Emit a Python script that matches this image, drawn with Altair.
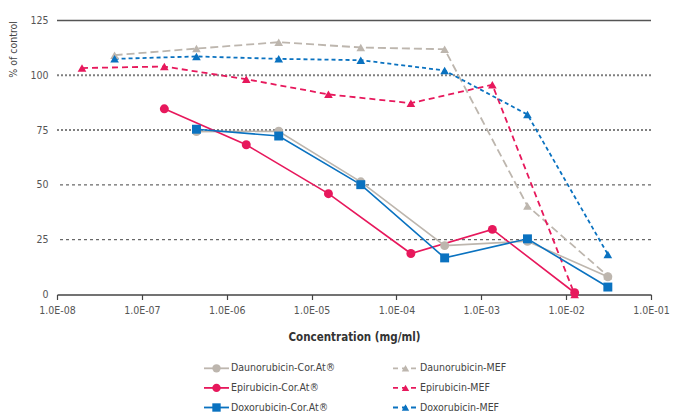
import altair as alt
import pandas as pd

# ---------------- data ----------------
CONC_DD_COR = [4.4e-7, 4.1e-6, 3.8e-5, 3.7e-4, 3.5e-3, 3.1e-2]
CONC_EPI_COR = [1.84e-7, 1.7e-6, 1.58e-5, 1.48e-4, 1.35e-3, 1.26e-2]
CONC_DD_MEF = [4.77e-8, 4.4e-7, 4.1e-6, 3.8e-5, 3.7e-4, 3.5e-3, 3.1e-2]
CONC_EPI_MEF = [1.97e-8, 1.84e-7, 1.7e-6, 1.58e-5, 1.48e-4, 1.35e-3, 1.26e-2]

DAUNO_COR = [74.3, 74.5, 51.4, 22.3, 24.3, 8.1]
EPI_COR = [84.7, 68.3, 46.0, 18.7, 29.7, 0.8]
DOXO_COR = [75.4, 72.3, 50.1, 16.7, 25.4, 3.4]
DAUNO_MEF = [109.2, 112.2, 115.1, 112.7, 111.9, 40.4, 8.5]
EPI_MEF = [103.3, 104.0, 98.2, 91.3, 87.3, 95.7, 0.0]
DOXO_MEF = [107.5, 108.6, 107.5, 106.9, 102.2, 82.1, 18.3]

SERIES_NAMES = ["Daunorubicin-Cor.At®", "Daunorubicin-MEF",
                "Epirubicin-Cor.At®", "Epirubicin-MEF",
                "Doxorubicin-Cor.At®", "Doxorubicin-MEF"]

X_TICKS = [1e-8, 1e-7, 1e-6, 1e-5, 1e-4, 1e-3, 1e-2, 1e-1]
Y_TICKS = [0, 25, 50, 75, 100, 125]
GRID_SOLID = [125]
GRID_DOTTED = [100, 75]
GRID_DASHED = [50, 25]

# ---------------- styles ----------------
FONT = "DejaVu Sans Condensed, Liberation Sans Narrow, sans-serif"
GRAY = "#bdb6ae"
RED = "#e7185c"
BLUE = "#0a72c0"

series = [
    # name, conc, values, color, shape, dash, size
    (SERIES_NAMES[1], CONC_DD_MEF, DAUNO_MEF, GRAY, "triangle-up", [8, 4], 75),
    (SERIES_NAMES[3], CONC_EPI_MEF, EPI_MEF, RED, "triangle-up", [6, 4], 75),
    (SERIES_NAMES[5], CONC_DD_MEF, DOXO_MEF, BLUE, "triangle-up", [4, 3], 75),
    (SERIES_NAMES[0], CONC_DD_COR, DAUNO_COR, GRAY, "circle", None, 80),
    (SERIES_NAMES[2], CONC_EPI_COR, EPI_COR, RED, "circle", None, 80),
    (SERIES_NAMES[4], CONC_DD_COR, DOXO_COR, BLUE, "square", None, 80),
]

W, H = 594, 274

x_scale = alt.Scale(type="log", domain=[1e-8, 1e-1], nice=False)
y_scale = alt.Scale(domain=[0, 125], nice=False, zero=True)

label_expr = ("'1.0E-' + (abs(round(log(datum.value)/LN10)) < 10 ? '0' : '') "
              "+ abs(round(log(datum.value)/LN10))")

x_axis = alt.Axis(values=X_TICKS, labelExpr=label_expr, title="Concentration (mg/ml)",
                  grid=False, domainColor="#444", domainWidth=1.5, tickColor="#444",
                  tickWidth=1.2, tickSize=5, labelPadding=6, labelFont=FONT,
                  labelFontSize=10.5, labelColor="#555", titleFont=FONT,
                  titleFontSize=11.5, titleFontWeight="bold", titleColor="#333",
                  titlePadding=15.5, labelFlush=False)
y_axis = alt.Axis(values=Y_TICKS, title="% of control", grid=False, domain=False,
                  ticks=False, tickSize=0, labelPadding=9, labelFont=FONT,
                  labelFontSize=10.5, labelColor="#555", titleFont=FONT,
                  titleFontSize=10.5, titleFontWeight="normal", titleColor="#444",
                  titleAnchor="end", titlePadding=11)


def enc_x():
    return alt.X("conc:Q", scale=x_scale, axis=x_axis)


def enc_y():
    return alt.Y("pct:Q", scale=y_scale, axis=y_axis)


layers = []
layers.append(alt.Chart(pd.DataFrame({"pct": GRID_DASHED})).mark_rule(
    color="#444", strokeWidth=1, strokeDash=[3, 3]).encode(y=enc_y()))
layers.append(alt.Chart(pd.DataFrame({"pct": GRID_DOTTED})).mark_rule(
    color="#808080", strokeWidth=2, strokeDash=[2, 2]).encode(y=enc_y()))
layers.append(alt.Chart(pd.DataFrame({"pct": GRID_SOLID})).mark_rule(
    color="#555", strokeWidth=1.5).encode(y=enc_y()))

for name, conc, vals, color, shape, dash, size in series:
    df = pd.DataFrame({"conc": conc, "pct": vals, "series": name})
    line_kw = dict(color=color, strokeWidth=1.8 if dash else 1.6)
    if dash:
        line_kw["strokeDash"] = dash
    layers.append(alt.Chart(df).mark_line(**line_kw).encode(x=enc_x(), y=enc_y()))
for name, conc, vals, color, shape, dash, size in series:
    df = pd.DataFrame({"conc": conc, "pct": vals, "series": name})
    layers.append(alt.Chart(df).mark_point(filled=True, shape=shape, size=size,
                                           color=color, opacity=1).encode(
        x=enc_x(), y=enc_y()))

main = alt.layer(*layers).properties(
    width=W, height=H, view=alt.ViewBackground(stroke="transparent", strokeWidth=0))

# ---------------- legend ----------------
LEG_COL_X = [147, 336]   # left edge of the legend symbol in each column
LEG_SYM_W = 25
legend_order = [
    (SERIES_NAMES[0], GRAY, "circle", None, 0, 0),
    (SERIES_NAMES[2], RED, "circle", None, 0, 1),
    (SERIES_NAMES[4], BLUE, "square", None, 0, 2),
    (SERIES_NAMES[1], GRAY, "triangle-up", [6, 4], 1, 0),
    (SERIES_NAMES[3], RED, "triangle-up", [6, 4], 1, 1),
    (SERIES_NAMES[5], BLUE, "triangle-up", [6, 4], 1, 2),
]
LH = 48
lx = alt.Scale(domain=[0, W], nice=False, zero=True)
ly = alt.Scale(domain=[-0.45, 2.0], nice=False, zero=False, reverse=True)
leg_layers = []
for name, color, shape, dash, col, row in legend_order:
    x0 = LEG_COL_X[col]
    df = pd.DataFrame({"x0": [x0], "x1": [x0 + LEG_SYM_W], "xm": [x0 + LEG_SYM_W / 2],
                       "xt": [x0 + LEG_SYM_W + 2], "row": [row], "label": [name]})
    rkw = dict(color=color, strokeWidth=1.8)
    if dash:
        rkw["strokeDash"] = [5, 4]
    leg_layers.append(alt.Chart(df).mark_rule(**rkw).encode(
        x=alt.X("x0:Q", scale=lx, axis=None), x2="x1:Q",
        y=alt.Y("row:Q", scale=ly, axis=None)))
    leg_layers.append(alt.Chart(df).mark_point(filled=True, shape=shape,
                                               size=70 if shape != "triangle-up" else 55,
                                               color=color, opacity=1).encode(
        x=alt.X("xm:Q", scale=lx, axis=None), y=alt.Y("row:Q", scale=ly, axis=None)))
    leg_layers.append(alt.Chart(df).mark_text(align="left", baseline="middle", font=FONT,
                                              fontSize=10.5, color="#444").encode(
        x=alt.X("xt:Q", scale=lx, axis=None), y=alt.Y("row:Q", scale=ly, axis=None),
        text="label:N"))

legend = alt.layer(*leg_layers).properties(
    width=W, height=LH, view=alt.ViewBackground(stroke="transparent", strokeWidth=0))

chart = alt.vconcat(main, legend, spacing=16).properties(
    padding={"left": 0, "top": 7.5, "right": 0, "bottom": 0}
).configure_view(stroke="transparent", strokeWidth=0).configure(font=FONT)

chart.save("out.html", embed_options={"renderer": "svg", "actions": False})
